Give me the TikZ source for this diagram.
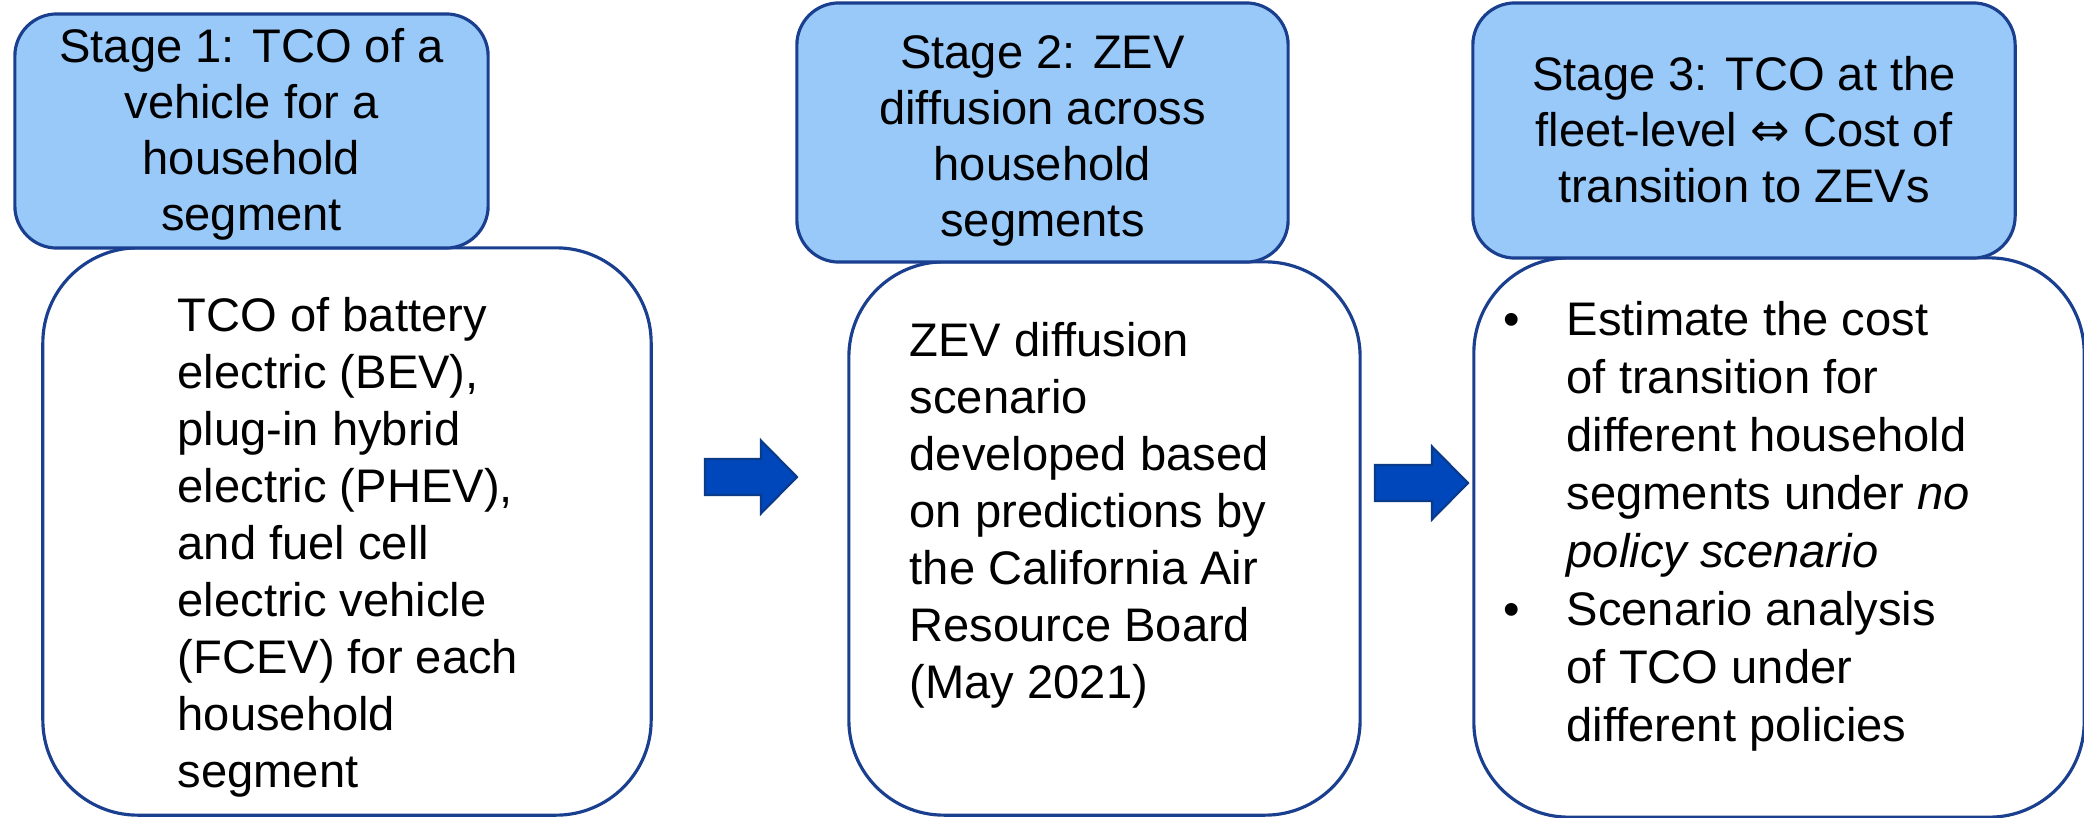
\documentclass[tikz,border=0pt]{standalone}
\usepackage{fontspec}
\setmainfont{Liberation Sans}
\newfontfamily\symbolfont{DejaVu Sans}
\definecolor{headfill}{HTML}{99C9F9}
\definecolor{edgeblue}{HTML}{1B3F8F}
\definecolor{arrowfill}{HTML}{0047BB}
\definecolor{arrowedge}{HTML}{0A3A8A}

\begin{document}
\begin{tikzpicture}[x=0.01cm, y=-0.01cm,
  stagehead/.style={draw=edgeblue, line width=0.9pt, fill=headfill, rounded corners=0.42cm, inner sep=0pt},
  stagebody/.style={draw=edgeblue, line width=0.9pt, fill=white, rounded corners=0.95cm, inner sep=0pt},
  headtext/.style={align=center, font=\fontsize{13.4}{15.9}\selectfont, inner sep=0pt},
  bodytext/.style={align=left, font=\fontsize{13.4}{16.2}\selectfont, inner sep=0pt, anchor=west},
  blockarr/.style={draw=arrowedge, fill=arrowfill, line width=0.6pt, line join=miter}
]
  \useasboundingbox (0,0) rectangle (2084,818);

  % bodies first, the headers sit on top of them
  \node[stagebody, minimum width=6.08cm, minimum height=5.67cm] (body1) at (347,531.5) {};
  \node[stagebody, minimum width=5.11cm, minimum height=5.53cm] (body2) at (1104.5,538.5) {};
  \node[stagebody, minimum width=6.10cm, minimum height=5.59cm] (body3) at (1779,537.5) {};

  \node[stagehead, minimum width=4.73cm, minimum height=2.34cm] (head1) at (251.5,131) {};
  \node[stagehead, minimum width=4.91cm, minimum height=2.59cm] (head2) at (1042.5,132.5) {};
  \node[stagehead, minimum width=5.42cm, minimum height=2.55cm] (head3) at (1744,130.5) {};

  \node[headtext] (head1txt) at (251.5,134) {Stage 1: TCO of a\\vehicle for a\\household\\segment};
  \node[headtext] (head2txt) at (1042.5,141) {Stage 2: ZEV\\diffusion across\\household\\segments};
  \node[headtext] (head3txt) at (1744,130) {Stage 3: TCO at the\\fleet-level {\symbolfont ⇔} Cost of\\transition to ZEVs};

  \node[bodytext] (body1txt) at (177,547) {TCO of battery\\electric (BEV),\\plug-in hybrid\\electric (PHEV),\\and fuel cell\\electric vehicle\\(FCEV) for each\\household\\segment};
  \node[bodytext] (body2txt) at (909,515) {ZEV diffusion\\scenario\\developed based\\on predictions by\\the California Air\\Resource Board\\(May 2021)};
  \node[bodytext, font=\fontsize{13.4}{16.5}\selectfont] (body3txt) at (1503,526) {\makebox[0.63cm][l]{\textbullet}Estimate the cost\\
    \hspace*{0.63cm}of transition for\\
    \hspace*{0.63cm}different household\\
    \hspace*{0.63cm}segments under \textit{no}\\
    \hspace*{0.63cm}\textit{policy scenario}\\
    \makebox[0.63cm][l]{\textbullet}Scenario analysis\\
    \hspace*{0.63cm}of TCO under\\
    \hspace*{0.63cm}different policies};

  % block arrows between the stages
  \coordinate (arr1) at (705,477);
  \coordinate (arr2) at (1375,483);
  \filldraw[blockarr] (arr1) ++(0,-18) -- ++(56,0) -- ++(0,-18.5) -- ++(36,36.5)
    -- ++(-36,36.5) -- ++(0,-18.5) -- ++(-56,0) -- cycle;
  \filldraw[blockarr] (arr2) ++(0,-18) -- ++(57,0) -- ++(0,-18.5) -- ++(36,36.5)
    -- ++(-36,36.5) -- ++(0,-18.5) -- ++(-57,0) -- cycle;
\end{tikzpicture}
\end{document}
